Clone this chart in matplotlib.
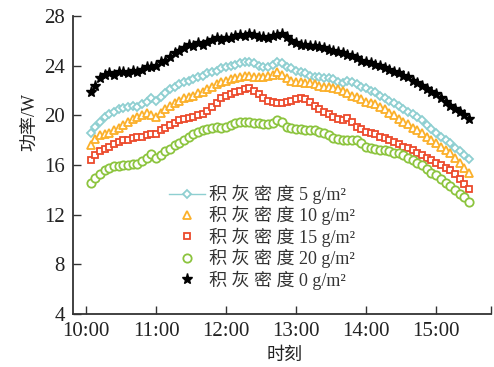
import matplotlib
matplotlib.use("Agg")
import matplotlib.pyplot as plt
import numpy as np

# sample times, minutes after 10:00 (one reading every 4 min)
t_start, t_step, n_pts = 4, 4, 82
minutes = t_start + t_step * np.arange(n_pts)

p5 = [18.6, 19.1, 19.5, 19.9, 20.1, 20.3, 20.5, 20.6, 20.7, 20.8,
      20.7, 20.9, 21.1, 21.4, 21.2, 21.5, 21.8, 22.1, 22.3, 22.5,
      22.7, 22.8, 22.9, 23.1, 23.2, 23.4, 23.5, 23.6, 23.8, 23.9,
      24.0, 24.1, 24.2, 24.3, 24.3, 24.2, 24.0, 23.9, 23.9, 24.1,
      24.3, 24.2, 23.9, 23.8, 23.6, 23.5, 23.4, 23.2, 23.1, 23.1,
      23.0, 23.0, 22.9, 22.7, 22.6, 22.8, 22.7, 22.5, 22.3, 22.2,
      22.0, 21.9, 21.6, 21.4, 21.2, 21.0, 20.8, 20.5, 20.3, 20.1,
      19.9, 19.6, 19.2, 18.9, 18.6, 18.3, 18.0, 17.8, 17.4, 17.1,
      16.8, 16.5]
p10 = [17.6, 18.1, 18.4, 18.5, 18.6, 18.8, 19.0, 19.2, 19.5, 19.7,
       19.9, 20.0, 20.2, 20.0, 19.9, 20.2, 20.5, 20.8, 21.0, 21.2,
       21.4, 21.5, 21.6, 21.8, 21.9, 22.1, 22.3, 22.5, 22.7, 22.8,
       22.9, 23.0, 23.1, 23.2, 23.2, 23.1, 23.1, 23.1, 23.2, 23.3,
       23.5, 23.3, 23.0, 22.8, 22.7, 22.7, 22.6, 22.6, 22.5, 22.4,
       22.3, 22.3, 22.2, 22.1, 22.0, 21.8, 21.6, 21.5, 21.3, 21.1,
       21.0, 20.9, 20.7, 20.5, 20.2, 20.0, 19.7, 19.5, 19.3, 19.0,
       18.8, 18.6, 18.3, 18.0, 17.8, 17.5, 17.2, 17.0, 16.6, 16.2,
       15.8, 15.4]
p15 = [16.4, 16.8, 17.1, 17.3, 17.5, 17.7, 17.9, 18.0, 18.0, 18.2,
       18.3, 18.3, 18.4, 18.5, 18.5, 18.8, 19.0, 19.2, 19.4, 19.6,
       19.7, 19.8, 19.9, 20.0, 20.1, 20.4, 20.7, 21.0, 21.4, 21.6,
       21.7, 21.9, 22.0, 22.1, 22.2, 22.0, 21.7, 21.4, 21.2, 21.1,
       21.0, 21.0, 21.1, 21.2, 21.3, 21.4, 21.3, 21.1, 20.8, 20.5,
       20.3, 20.1, 19.9, 19.7, 19.6, 19.8, 19.5, 19.1, 18.9, 18.7,
       18.6, 18.5, 18.3, 18.2, 18.0, 17.9, 17.7, 17.5, 17.4, 17.2,
       17.0, 16.8, 16.6, 16.4, 16.2, 16.0, 15.8, 15.6, 15.3, 14.9,
       14.5, 14.1]
p20 = [14.6, 15.0, 15.3, 15.6, 15.8, 15.9, 15.9, 16.0, 16.0, 16.1,
       16.1, 16.3, 16.6, 16.9, 16.6, 16.8, 17.1, 17.3, 17.6, 17.8,
       18.0, 18.3, 18.5, 18.7, 18.8, 18.9, 19.0, 19.1, 19.0, 19.1,
       19.2, 19.4, 19.5, 19.5, 19.5, 19.4, 19.4, 19.3, 19.3, 19.4,
       19.6, 19.5, 19.1, 19.0, 18.9, 18.9, 18.8, 18.8, 18.8, 18.7,
       18.6, 18.4, 18.2, 18.1, 18.0, 18.0, 18.0, 18.0, 17.8, 17.5,
       17.4, 17.3, 17.2, 17.2, 17.1, 17.0, 17.0, 16.8, 16.6, 16.4,
       16.2, 16.0, 15.7, 15.4, 15.2, 14.9, 14.6, 14.3, 14.0, 13.7,
       13.4, 13.0]
p0 = [21.9, 22.4, 23.0, 23.3, 23.4, 23.3, 23.5, 23.5, 23.4, 23.6,
      23.5, 23.7, 23.9, 23.9, 24.0, 24.3, 24.4, 24.7, 25.0, 25.2,
      25.4, 25.7, 25.6, 25.8, 25.7, 25.9, 26.1, 26.2, 26.1, 26.2,
      26.2, 26.4, 26.5, 26.4, 26.6, 26.5, 26.3, 26.3, 26.2, 26.4,
      26.5, 26.6, 26.3, 26.0, 25.8, 25.7, 25.7, 25.6, 25.6, 25.5,
      25.4, 25.3, 25.2, 25.1, 25.0, 24.9, 24.8, 24.6, 24.4, 24.3,
      24.2, 24.1, 24.0, 23.8, 23.7, 23.5, 23.4, 23.2, 23.1, 22.8,
      22.6, 22.4, 22.1, 21.9, 21.7, 21.4, 21.1, 20.8, 20.5, 20.3,
      20.0, 19.7]

labels = ["积 灰 密 度 5 g/m²", "积 灰 密 度 10 g/m²", "积 灰 密 度 15 g/m²",
          "积 灰 密 度 20 g/m²", "积 灰 密 度 0 g/m²"]
hour_ticks = [0, 60, 120, 180, 240, 300]
hour_labels = ["10:00", "11:00", "12:00", "13:00", "14:00", "15:00"]
y_ticks = [4, 8, 12, 16, 20, 24, 28]

fonts = ["Liberation Serif", "Noto Sans CJK SC"]
plt.rcParams["font.family"] = fonts

fig = plt.figure(figsize=(4.94, 3.67), dpi=100)
ax = fig.add_axes([0.148, 0.144, 0.846, 0.812])

ax.plot(minutes, p5, color="#8ecfd1", lw=1.0, marker="D", ms=4.5,
        mfc="white", mec="#8ecfd1", mew=1.3, label=labels[0])
ax.plot(minutes, p10, ls="none", marker="^", ms=6, mfc="white",
        mec="#fbb02a", mew=1.3, label=labels[1])
ax.plot(minutes, p15, ls="none", marker="s", ms=5, mfc="white",
        mec="#ec4a2c", mew=1.3, label=labels[2])
ax.plot(minutes, p20, ls="none", marker="o", ms=6, mfc="white",
        mec="#8cc43e", mew=1.3, label=labels[3])
ax.plot(minutes, p0, ls="none", marker="*", ms=8, color="black",
        mec="black", label=labels[4])

ax.set_xlim(-11, 347)
ax.set_ylim(4, 28)
ax.set_xticks(hour_ticks)
ax.set_xticklabels(hour_labels)
ax.set_xticks([347], minor=True)
ax.set_yticks(y_ticks)
for s in ["top", "right"]:
    ax.spines[s].set_visible(False)
for s in ["left", "bottom"]:
    ax.spines[s].set_color("#333333")
    ax.spines[s].set_linewidth(1.3)
ax.tick_params(which="both", direction="in", length=6, width=1.0,
               color="#333333", labelsize=15, pad=6, labelcolor="#222222")

ax.set_xlabel("时刻", fontsize=13, color="#222222")
ax.xaxis.set_label_coords(0.505, -0.11)
ax.set_ylabel("功率/W", fontsize=13, color="#222222")
ax.yaxis.set_label_coords(-0.082, 0.645)

leg = ax.legend(loc="lower left", bbox_to_anchor=(0.2, 0.04), frameon=False,
                fontsize=13, handlelength=2.0, handletextpad=0.2,
                labelspacing=0.12, borderpad=0.2, labelcolor="#333333")

fig.savefig("out.png", dpi=100)
